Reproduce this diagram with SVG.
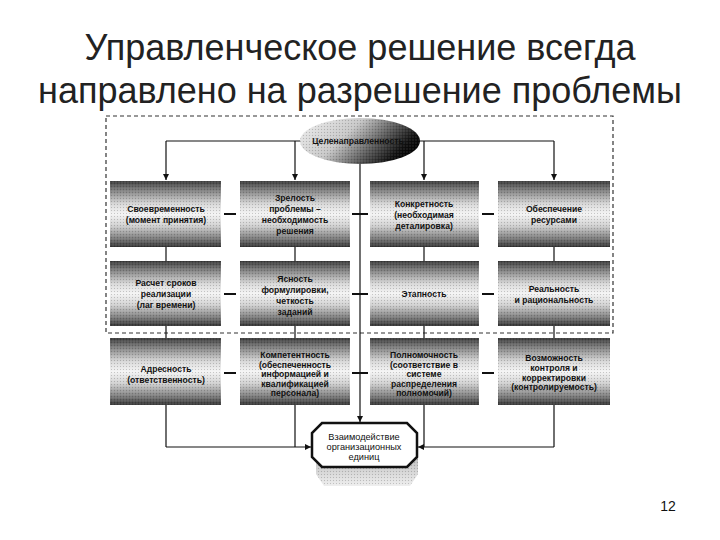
<svg xmlns="http://www.w3.org/2000/svg" width="720" height="540" viewBox="0 0 720 540">
<defs>
<style>
.title{font-family:"Liberation Sans",Arial,sans-serif;font-size:36px;fill:#222;text-anchor:middle}
.bt{font-family:"Liberation Sans",Arial,sans-serif;font-size:8.6px;font-weight:bold;fill:#111;text-anchor:middle}
.box{fill:url(#boxg)}
.tex{fill:url(#dots)}
.ln{stroke:#111;stroke-width:1.2;fill:none}
.dash{stroke:#111;stroke-width:2;fill:none}
.arr{stroke:#111;stroke-width:1.2;fill:none;marker-end:url(#ah)}
</style>
<linearGradient id="boxg" x1="0" y1="0" x2="0" y2="1">
<stop offset="0" stop-color="#3a3a3a"/>
<stop offset="0.12" stop-color="#777"/>
<stop offset="0.35" stop-color="#d8d8d8"/>
<stop offset="0.5" stop-color="#f4f4f4"/>
<stop offset="0.68" stop-color="#d0d0d0"/>
<stop offset="0.88" stop-color="#777"/>
<stop offset="1" stop-color="#333"/>
</linearGradient>
<pattern id="dots" width="3" height="3" patternUnits="userSpaceOnUse">
<rect x="0" y="0" width="1" height="1" fill="#000" fill-opacity="0.18"/>
<rect x="1.5" y="1.5" width="1" height="1" fill="#fff" fill-opacity="0.25"/>
</pattern>
<linearGradient id="ellg" x1="0" y1="0.3" x2="1" y2="0.7">
<stop offset="0" stop-color="#e6e6e6"/>
<stop offset="0.35" stop-color="#c8c8c8"/>
<stop offset="0.65" stop-color="#555"/>
<stop offset="0.85" stop-color="#111"/>
<stop offset="1" stop-color="#000"/>
</linearGradient>
<linearGradient id="shg" x1="0" y1="0" x2="0" y2="1">
<stop offset="0" stop-color="#999"/>
<stop offset="1" stop-color="#eee"/>
</linearGradient>
<marker id="ah" markerWidth="7" markerHeight="7" refX="6" refY="3.5" orient="auto" markerUnits="userSpaceOnUse">
<path d="M0,0.5 L6,3.5 L0,6.5 Z" fill="#111"/>
</marker>
</defs>
<rect width="720" height="540" fill="#fff"/>

<g id="title">
<text class="title" x="360" y="60">Управленческое решение всегда</text>
<text class="title" x="360" y="103">направлено на разрешение проблемы</text>
</g>

<rect id="frame" x="106" y="116" width="507" height="217" fill="none" stroke="#333" stroke-width="1.2" stroke-dasharray="4 3"/>

<g id="connectors">
<path class="ln" d="M166,141 H301 M419,141 H554"/>
<path class="arr" d="M166,141 V180"/>
<path class="arr" d="M295,141 V180"/>
<path class="arr" d="M424,141 V180"/>
<path class="arr" d="M554,141 V180"/>
<path class="arr" d="M360,163 V422"/>
<path class="ln" d="M166,247 V261 M295,247 V261 M424,247 V261 M554,247 V261"/>
<path class="ln" d="M166,326 V338 M295,326 V338 M424,326 V338 M554,326 V338"/>
<path class="dash" d="M224,214 H236 M352,214 H368 M482,214 H494"/>
<path class="dash" d="M224,294 H236 M352,294 H368 M482,294 H494"/>
<path class="dash" d="M224,373 H236 M352,373 H368 M482,373 H494"/>
<path class="ln" d="M166,405 V447 M295,405 V447 M424,405 V447 M554,405 V447"/>
<path class="arr" d="M166,447 H311"/>
<path class="arr" d="M554,447 H418"/>
</g>

<g id="n0">
<ellipse cx="360" cy="141" rx="60" ry="23" fill="url(#ellg)"/>
<ellipse cx="360" cy="141" rx="60" ry="23" fill="url(#dots)"/>
<text class="bt" x="358" y="144">Целенаправленность</text>
</g>

<g id="n1">
<rect class="box" x="110" y="181" width="111" height="66"/><rect class="tex" x="110" y="181" width="111" height="66"/>
<text class="bt" x="166" y="212">Своевременность</text>
<text class="bt" x="166" y="223">(момент принятия)</text>
</g>
<g id="n2">
<rect class="box" x="240" y="181" width="110" height="66"/><rect class="tex" x="240" y="181" width="110" height="66"/>
<text class="bt" x="295" y="201">Зрелость</text>
<text class="bt" x="295" y="212">проблемы –</text>
<text class="bt" x="295" y="223">необходимость</text>
<text class="bt" x="295" y="234">решения</text>
</g>
<g id="n3">
<rect class="box" x="370" y="181" width="109" height="66"/><rect class="tex" x="370" y="181" width="109" height="66"/>
<text class="bt" x="424" y="207">Конкретность</text>
<text class="bt" x="424" y="218">(необходимая</text>
<text class="bt" x="424" y="229">деталировка)</text>
</g>
<g id="n4">
<rect class="box" x="498" y="181" width="112" height="66"/><rect class="tex" x="498" y="181" width="112" height="66"/>
<text class="bt" x="554" y="212">Обеспечение</text>
<text class="bt" x="554" y="223">ресурсами</text>
</g>

<g id="n5">
<rect class="box" x="110" y="261" width="111" height="65"/><rect class="tex" x="110" y="261" width="111" height="65"/>
<text class="bt" x="166" y="286">Расчет сроков</text>
<text class="bt" x="166" y="297">реализации</text>
<text class="bt" x="166" y="308">(лаг времени)</text>
</g>
<g id="n6">
<rect class="box" x="240" y="261" width="110" height="65"/><rect class="tex" x="240" y="261" width="110" height="65"/>
<text class="bt" x="295" y="282">Ясность</text>
<text class="bt" x="295" y="293">формулировки,</text>
<text class="bt" x="295" y="304">четкость</text>
<text class="bt" x="295" y="315">заданий</text>
</g>
<g id="n7">
<rect class="box" x="370" y="261" width="109" height="65"/><rect class="tex" x="370" y="261" width="109" height="65"/>
<text class="bt" x="424" y="297">Этапность</text>
</g>
<g id="n8">
<rect class="box" x="498" y="261" width="112" height="65"/><rect class="tex" x="498" y="261" width="112" height="65"/>
<text class="bt" x="554" y="292">Реальность</text>
<text class="bt" x="554" y="303">и рациональность</text>
</g>

<g id="n9">
<rect class="box" x="110" y="338" width="111" height="67"/><rect class="tex" x="110" y="338" width="111" height="67"/>
<text class="bt" x="166" y="372">Адресность</text>
<text class="bt" x="166" y="383">(ответственность)</text>
</g>
<g id="n10">
<rect class="box" x="240" y="338" width="110" height="67"/><rect class="tex" x="240" y="338" width="110" height="67"/>
<text class="bt" x="295" y="358">Компетентность</text>
<text class="bt" x="295" y="367.5">(обеспеченность</text>
<text class="bt" x="295" y="377">информацией и</text>
<text class="bt" x="295" y="386.5">квалификацией</text>
<text class="bt" x="295" y="396">персонала)</text>
</g>
<g id="n11">
<rect class="box" x="370" y="338" width="109" height="67"/><rect class="tex" x="370" y="338" width="109" height="67"/>
<text class="bt" x="424" y="358">Полномочность</text>
<text class="bt" x="424" y="367.5">(соответствие в</text>
<text class="bt" x="424" y="377">системе</text>
<text class="bt" x="424" y="386.5">распределения</text>
<text class="bt" x="424" y="396">полномочий)</text>
</g>
<g id="n12">
<rect class="box" x="498" y="338" width="112" height="67"/><rect class="tex" x="498" y="338" width="112" height="67"/>
<text class="bt" x="554" y="361">Возможность</text>
<text class="bt" x="554" y="371">контроля и</text>
<text class="bt" x="554" y="380.5">корректировки</text>
<text class="bt" x="554" y="390">(контролируемость)</text>
</g>

<g id="n13">
<path d="M324,437 H410 L418,447 V474 L410,486 H324 L316,474 V447 Z" fill="url(#shg)"/>
<path d="M324,437 H410 L418,447 V474 L410,486 H324 L316,474 V447 Z" fill="url(#dots)"/>
<path d="M322,423 H407 L417,433 V457 L407,467 H322 L312,457 V433 Z" fill="#fff" stroke="#111" stroke-width="2.5"/>
<text class="bt" x="364" y="440" style="font-weight:normal;font-size:9.2px">Взаимодействие</text>
<text class="bt" x="364" y="450" style="font-weight:normal;font-size:9.2px">организационных</text>
<text class="bt" x="364" y="460" style="font-weight:normal;font-size:9.2px">единиц</text>
</g>

<text x="668" y="511" style="font-family:'Liberation Sans',Arial,sans-serif;font-size:14px;fill:#111;text-anchor:middle">12</text>
</svg>
